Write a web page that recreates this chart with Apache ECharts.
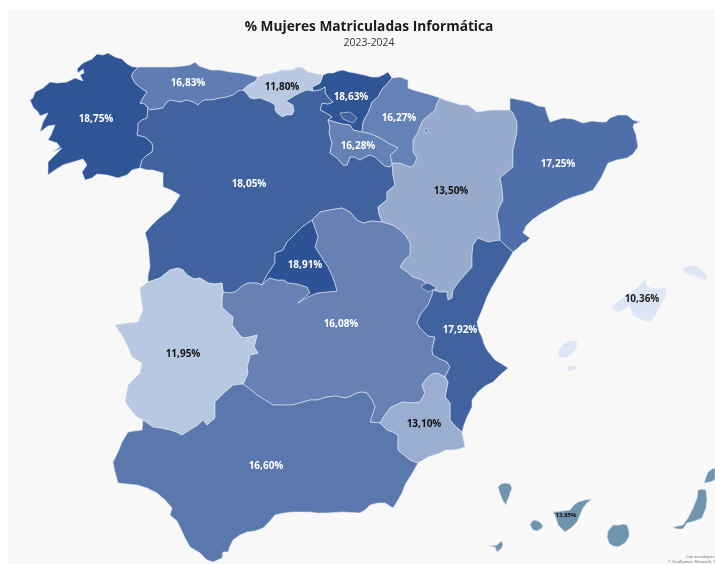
<!DOCTYPE html>
<html>
<head>
<meta charset="utf-8">
<style>html,body{margin:0;background:#fff}#chart{width:715px;height:564px}</style>
<script src="https://cdn.jsdelivr.net/npm/echarts@6/dist/echarts.min.js"></script>
</head>
<body>
<div id="chart"></div>
<script>
const regionNames = ['País Vasco', 'Galicia', 'Asturias', 'Cantabria', 'Castilla y León', 'Aragón', 'Navarra', 'La Rioja', 'Cataluña', 'Castilla-La Mancha', 'Comunidad Valenciana', 'Madrid', 'Extremadura', 'Andalucía', 'Murcia', 'Baleares', 'Canarias']
const regionValues = [18.63, 18.75, 16.83, 11.80, 18.05, 13.50, 16.27, 16.28, 17.25, 16.08, 17.92, 18.91, 11.95, 16.60, 13.10, 10.36, 13.85]
const regionColors = ['#2f5597', '#2f5597', '#5f7db3', '#b9c9e3', '#40639f', '#98abcd', '#6482b5', '#6482b5', '#4e6fa9', '#6881b4', '#40639f', '#2d5296', '#b7c8e3', '#5b78ae', '#9aaed0', '#dde6f6', '#6f94ad']
const labelColors = ['#fff', '#fff', '#fff', '#111', '#fff', '#111', '#fff', '#fff', '#fff', '#fff', '#fff', '#fff', '#111', '#fff', '#111', '#222', '#111']
const labelPoints = [[351, 97], [96, 119], [188, 83], [282, 87], [249, 184], [451, 191], [399, 118], [358, 146], [558, 164], [341, 324], [460, 330], [305, 265], [183, 354], [266, 466], [424, 424], [642, 299], [566, 515]]

// outlines traced in page pixels, shared borders kept as chains
const bGalAst = [[138, 67], [132, 74], [132, 77], [135, 83], [141, 88], [147, 92], [143, 98], [140, 103], [145, 104], [148, 108]]
const bGalCyl = [[148, 108], [147, 118], [142, 120], [138, 123], [138, 129], [137, 135], [145, 137], [152, 143], [153, 148], [152, 152], [146, 156], [142, 160], [140, 168]]
const bAstCyl = [[148, 108], [150, 110], [157, 109], [163, 108], [166, 103], [170, 100], [175, 101], [180, 102], [187, 100], [193, 102], [198, 105], [202, 101], [205, 100], [212, 100], [220, 98], [227, 97], [233, 95], [238, 91], [243, 90]]
const bAstCan = [[258, 77], [255, 82], [252, 83], [247, 86], [243, 90]]
const bCanPv = [[323, 75], [320, 83], [312, 87], [313, 91]]
const bCanCyl = [[313, 91], [307, 90], [302, 92], [296, 95], [291, 98], [286, 101], [293, 105], [294, 111], [292, 115], [287, 115], [282, 117], [277, 113], [275, 110], [275, 105], [270, 102], [265, 100], [260, 98], [254, 99], [250, 98], [247, 94], [243, 90]]
const bPvNav = [[392, 78], [387, 84], [383, 88], [380, 93], [378, 97], [372, 102], [370, 108], [368, 113], [365, 118], [363, 123], [362, 132]]
const bPvRio = [[362, 132], [353, 130], [350, 125], [342, 124], [335, 122], [328, 120]]
const bPvCyl = [[328, 120], [332, 117], [326, 113], [320, 110], [322, 103], [328, 104], [333, 102], [328, 97], [325, 93], [325, 87], [320, 90], [313, 91]]
const bCylRio = [[328, 120], [330, 127], [329, 133], [332, 143], [330, 153], [337, 158], [343, 165], [347, 165], [350, 157], [355, 157], [360, 160], [365, 157], [370, 155], [375, 157], [380, 162], [385, 166], [390, 167], [392, 163]]
const bNavRio = [[362, 132], [371, 134], [380, 138], [388, 143], [398, 148], [394, 152], [390, 155], [392, 163]]
const bNavAra = [[440, 98], [437, 103], [435, 110], [429, 115], [423, 120], [420, 126], [418, 132], [413, 140], [413, 152], [417, 158], [414, 165], [410, 167], [405, 165], [400, 163], [392, 163]]
const bCylAra = [[392, 163], [393, 175], [395, 185], [387, 192], [387, 200], [378, 207], [379, 214], [382, 222]]
const bAraClm = [[382, 222], [392, 225], [400, 230], [406, 236], [410, 243], [410, 255], [404, 260], [400, 267], [407, 272], [413, 277], [422, 280], [428, 285], [433, 290]]
const bAraVal = [[433, 290], [440, 292], [447, 292], [448, 300], [452, 298], [453, 290], [458, 283], [463, 277], [472, 267], [472, 255], [473, 245], [478, 238], [488, 242], [494, 241], [500, 240]]
const bAraCat = [[500, 240], [500, 230], [497, 215], [499, 208], [503, 200], [502, 188], [500, 178], [507, 172], [513, 167], [513, 150], [517, 132], [517, 122], [513, 113], [510, 110]]
const bCatVal = [[513, 252], [507, 247], [500, 240]]
const bValMur = [[462, 432], [455, 426], [450, 420], [450, 403], [445, 397], [448, 382], [445, 377]]
const bValClm = [[445, 377], [450, 367], [447, 362], [440, 359], [433, 355], [432, 350], [435, 337], [428, 336], [420, 328], [417, 323], [420, 315], [428, 305], [432, 295], [433, 290]]
const bMurAnd = [[418, 463], [410, 460], [404, 455], [398, 450], [398, 435], [393, 432], [387, 430], [380, 423]]
const bMurClm = [[380, 423], [385, 415], [390, 408], [396, 405], [403, 402], [412, 403], [420, 402], [425, 393], [422, 385], [427, 378], [432, 374], [437, 373], [445, 377]]
const bClmAnd = [[380, 423], [370, 422], [375, 407], [372, 400], [367, 393], [362, 392], [357, 393], [351, 396], [345, 398], [336, 396], [327, 397], [317, 400], [310, 400], [303, 402], [292, 405], [280, 405], [273, 405], [265, 400], [257, 395], [250, 389], [243, 384]]
const bExtAnd = [[243, 384], [233, 385], [224, 393], [215, 402], [215, 410], [215, 418], [207, 425], [203, 420], [198, 425], [193, 428], [182, 435], [176, 432], [170, 430], [160, 428], [153, 427], [143, 420]]
const bExtClm = [[223, 292], [222, 300], [222, 307], [227, 312], [233, 317], [232, 325], [238, 333], [243, 338], [250, 337], [257, 335], [254, 347], [258, 353], [250, 355], [247, 367], [248, 373], [243, 384]]
const bCylExt = [[148, 282], [160, 278], [170, 270], [178, 268], [183, 270], [187, 275], [194, 279], [200, 278], [208, 283], [215, 284], [222, 283], [223, 292]]
const bCylClmA = [[223, 292], [229, 293], [235, 292], [242, 286], [248, 283], [257, 283], [262, 285]]
const bCylClmB = [[312, 220], [320, 212], [330, 210], [342, 208], [350, 212], [357, 220], [363, 223], [372, 221], [382, 222]]
const bMadWest = [[262, 285], [267, 275], [275, 263], [275, 253], [283, 250], [287, 242], [292, 237], [302, 227], [312, 220]]
const bMadEast = [[337, 291], [335, 284], [333, 278], [328, 267], [322, 258], [315, 247], [318, 237], [315, 228], [312, 220]]
const bMadSouth = [[262, 285], [267, 280], [270, 278], [277, 280], [284, 280], [288, 283], [297, 284], [307, 287], [310, 293], [298, 303], [303, 300], [308, 297], [317, 293], [327, 292], [337, 291]]

const coastGalicia = [[138, 67], [133, 67], [127, 64], [122, 59], [115, 57], [108, 53], [103, 55], [97, 54], [92, 59], [83, 63], [77, 69], [78, 73], [83, 69], [84, 73], [80, 75], [83, 81], [75, 78], [67, 82], [57, 83], [50, 82], [43, 88], [35, 92], [33, 98], [30, 100], [33, 107], [38, 112], [40, 116], [48, 113], [43, 122], [40, 132], [48, 126], [55, 125], [51, 135], [48, 140], [57, 143], [60, 147], [52, 152], [62, 148], [55, 155], [48, 162], [48, 175], [55, 170], [63, 165], [73, 162], [83, 159], [87, 165], [82, 172], [85, 180], [92, 178], [97, 174], [107, 175], [118, 178], [127, 175], [132, 170], [140, 168]]
const coastAsturias = [[138, 67], [150, 67], [160, 67], [172, 67], [183, 66], [190, 65], [195, 62], [199, 66], [202, 67], [211, 70], [220, 70], [230, 72], [240, 73], [250, 75], [258, 77]]
const coastCantabria = [[258, 77], [265, 74], [273, 73], [282, 70], [292, 70], [298, 67], [303, 68], [308, 72], [313, 73], [323, 75]]
const coastPv = [[323, 75], [328, 73], [333, 73], [338, 71], [343, 70], [349, 72], [355, 73], [364, 75], [372, 77], [378, 77], [383, 75], [388, 72], [392, 78]]
const borderNavarra = [[392, 78], [400, 77], [408, 80], [408, 88], [413, 90], [420, 92], [428, 94], [440, 98]]
const borderAragon = [[510, 110], [500, 110], [492, 110], [484, 111], [477, 112], [472, 108], [468, 105], [461, 105], [455, 103], [448, 101], [440, 98]]
const coastCatalonia = [[510, 110], [510, 98], [520, 100], [530, 102], [538, 106], [545, 107], [547, 114], [550, 122], [556, 120], [563, 118], [573, 119], [583, 123], [592, 121], [600, 122], [606, 122], [610, 118], [618, 115], [627, 115], [633, 120], [640, 122], [634, 124], [633, 127], [636, 135], [638, 147], [633, 154], [627, 158], [617, 160], [608, 163], [601, 178], [593, 190], [583, 194], [573, 197], [563, 201], [553, 207], [542, 213], [532, 220], [526, 226], [523, 233], [530, 238], [526, 242], [523, 243], [518, 248], [513, 252]]
const coastValencia = [[513, 252], [506, 264], [498, 277], [492, 287], [487, 297], [482, 310], [477, 322], [479, 331], [482, 337], [484, 344], [487, 350], [495, 360], [502, 364], [508, 368], [500, 375], [493, 382], [485, 386], [478, 392], [472, 400], [472, 407], [467, 417], [464, 425], [462, 432]]
const coastMurcia = [[462, 432], [465, 447], [459, 449], [453, 450], [446, 450], [440, 453], [428, 457], [423, 460], [418, 463]]
const coastAndalucia = [[143, 420], [142, 430], [134, 431], [128, 432], [122, 442], [118, 452], [113, 462], [115, 472], [118, 483], [127, 484], [137, 485], [147, 488], [157, 493], [165, 500], [172, 508], [170, 515], [177, 521], [180, 527], [185, 538], [190, 547], [200, 553], [207, 560], [213, 562], [222, 558], [223, 552], [228, 552], [230, 546], [233, 540], [240, 535], [247, 532], [255, 531], [263, 528], [269, 522], [275, 515], [284, 513], [293, 512], [310, 512], [317, 513], [327, 513], [343, 512], [360, 513], [365, 510], [370, 505], [378, 503], [385, 503], [393, 508], [398, 500], [402, 493], [405, 485], [408, 480], [413, 472], [417, 465], [418, 463]]
const borderPortugalNorth = [[140, 168], [147, 170], [153, 170], [163, 173], [163, 187], [171, 190], [180, 195], [175, 203], [170, 210], [163, 215], [157, 220], [151, 226], [145, 233], [148, 243], [149, 255], [150, 267], [148, 275], [148, 282]]
const borderPortugalSouth = [[143, 420], [137, 417], [131, 410], [125, 402], [128, 385], [134, 379], [140, 373], [142, 363], [132, 357], [127, 345], [123, 337], [115, 325], [127, 323], [138, 322], [143, 310], [141, 298], [140, 288], [148, 282]]

const islandTrevino = [[340, 113], [350, 112], [357, 118], [353, 123], [343, 119]]
const islandPetilla = [[424, 130], [428, 128], [428, 132], [425, 133]]
const islandAdemuz = [[422, 285], [428, 283], [437, 288], [428, 292], [422, 288]]
const islandMallorca = [[612, 307], [620, 300], [627, 295], [636, 289], [645, 280], [647, 287], [656, 289], [665, 288], [666, 293], [665, 297], [662, 303], [658, 309], [655, 316], [650, 322], [641, 319], [633, 315], [631, 309], [630, 305], [624, 309], [618, 312]]
const islandMenorca = [[683, 269], [689, 266], [695, 266], [701, 270], [707, 277], [705, 280], [700, 278], [695, 275], [689, 274], [685, 273]]
const islandIbiza = [[559, 350], [563, 345], [567, 342], [572, 341], [577, 342], [576, 348], [573, 352], [567, 357], [559, 357]]
const islandFormentera = [[568, 367], [572, 366], [578, 368], [572, 370], [568, 371]]
const islandLaPalma = [[498, 487], [501, 484], [505, 483], [510, 484], [512, 488], [510, 493], [509, 497], [507, 501], [506, 505], [503, 501], [500, 494]]
const islandHierro = [[489, 546], [497, 545], [499, 543], [502, 541], [503, 545], [501, 549], [497, 552], [495, 547]]
const islandGomera = [[530, 525], [532, 521], [535, 520], [540, 522], [543, 526], [541, 529], [537, 531], [533, 530]]
const islandTenerife = [[553, 512], [562, 511], [570, 510], [574, 505], [578, 502], [585, 500], [592, 499], [587, 503], [583, 508], [580, 515], [577, 522], [571, 528], [565, 532], [561, 528], [558, 525], [556, 518]]
const islandGranCanaria = [[607, 537], [608, 531], [613, 525], [620, 525], [623, 524], [627, 525], [629, 531], [629, 537], [625, 543], [618, 547], [613, 546], [609, 543]]
const islandFuerteventura = [[673, 527], [683, 525], [688, 518], [693, 508], [697, 498], [698, 490], [702, 489], [706, 490], [707, 499], [706, 508], [702, 518], [695, 521], [687, 523], [683, 529], [677, 529]]
const islandLanzarote = [[704, 483], [706, 477], [708, 472], [712, 469], [715, 468], [715, 480], [710, 482]]

const rev = chain => chain.slice().reverse()
const ring = (...chains) => chains.flat()

const regionShapes = [
  [ring(coastPv, bPvNav, bPvRio, bPvCyl, rev(bCanPv))],
  [ring(coastGalicia, rev(bGalCyl), rev(bGalAst))],
  [ring(coastAsturias, bAstCan, rev(bAstCyl), rev(bGalAst))],
  [ring(coastCantabria, bCanPv, bCanCyl, rev(bAstCan))],
  [ring(bGalCyl, borderPortugalNorth, bCylExt, bCylClmA, bMadWest, bCylClmB, rev(bCylAra), rev(bCylRio), bPvCyl, bCanCyl, rev(bAstCyl)), islandTrevino],
  [ring(borderAragon, bNavAra, bCylAra, bAraClm, bAraVal, bAraCat)],
  [ring(borderNavarra, bNavAra, rev(bNavRio), rev(bPvNav)), islandPetilla],
  [ring(rev(bPvRio), bNavRio, rev(bCylRio))],
  [ring(coastCatalonia, bCatVal, bAraCat)],
  [ring(bAraClm, rev(bValClm), rev(bMurClm), bClmAnd, rev(bExtClm), bCylClmA, bMadSouth, bMadEast, bCylClmB)],
  [ring(rev(bCatVal), coastValencia, bValMur, bValClm, bAraVal), islandAdemuz],
  [ring(bMadWest, rev(bMadEast), rev(bMadSouth))],
  [ring(bCylExt, bExtClm, bExtAnd, borderPortugalSouth)],
  [ring(bClmAnd, bExtAnd, coastAndalucia, bMurAnd)],
  [ring(coastMurcia, bMurAnd, bMurClm, rev(bValMur))],
  [islandMallorca, islandMenorca, islandIbiza, islandFormentera],
  [islandLaPalma, islandHierro, islandGomera, islandTenerife, islandGranCanaria, islandFuerteventura, islandLanzarote]
]

const features = regionNames.map((name, i) => ({
  type: 'Feature',
  properties: { name: name, cp: labelPoints[i] },
  geometry: { type: 'MultiPolygon', coordinates: regionShapes[i].map(r => [r]) }
}))
echarts.registerMap('espana', { type: 'FeatureCollection', features: features })

const allPoints = regionShapes.flat(2)
const xs = allPoints.map(p => p[0])
const ys = allPoints.map(p => p[1])
const minX = Math.min(...xs)
const minY = Math.min(...ys)

const chart = echarts.init(document.getElementById('chart'), null, { renderer: 'canvas' })
chart.setOption({
  animation: false,
  backgroundColor: '#fff',
  title: [{
    text: '% Mujeres Matriculadas Informática',
    left: 364,
    top: 15,
    textAlign: 'center',
    textStyle: { fontFamily: 'Open Sans', fontWeight: 'bold', fontSize: 13.7, color: '#1a1a1a' }
  }, {
    text: '2023-2024',
    left: 364,
    top: 33,
    textAlign: 'center',
    textStyle: { fontFamily: 'Open Sans', fontWeight: 'normal', fontSize: 10.4, color: '#333' }
  }],
  graphic: [
    { type: 'rect', z: -10, silent: true, shape: { x: 8, y: 10, width: 707, height: 554 }, style: { fill: '#f8f8f8' } },
    { type: 'rect', z: -9, silent: true, shape: { x: 486, y: 434, width: 229, height: 130 }, style: { fill: '#f9f9fa' } },
    { type: 'text', z: 5, silent: true, x: 686, y: 555, style: { text: 'Con tecnología de Bing', fontSize: 4, fill: '#777' } },
    { type: 'text', z: 5, silent: true, x: 668, y: 560, style: { text: '© GeoNames, Microsoft, TomTom', fontSize: 4, fill: '#777' } }
  ],
  series: [{
    type: 'map',
    map: 'espana',
    projection: { project: p => p, unproject: p => p },
    roam: false,
    selectedMode: false,
    silent: true,
    left: minX,
    top: minY,
    width: Math.max(...xs) - minX,
    height: Math.max(...ys) - minY,
    itemStyle: { borderColor: '#dfe6f2', borderWidth: 0.6 },
    label: {
      show: true,
      fontFamily: 'Open Sans',
      fontWeight: 'bold',
      fontSize: 10,
      formatter: p => p.value.toFixed(2).replace('.', ',') + '%'
    },
    data: regionNames.map((name, i) => ({
      name: name,
      value: regionValues[i],
      itemStyle: { areaColor: regionColors[i] },
      label: { color: labelColors[i], fontSize: name === 'Canarias' ? 6 : 10 }
    }))
  }]
})
</script>
</body>
</html>
